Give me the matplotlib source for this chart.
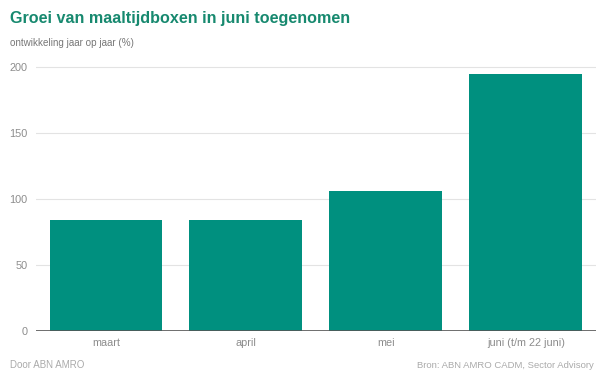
import matplotlib
matplotlib.use('Agg')
import matplotlib.pyplot as plt

plt.rcParams['font.family'] = ['Liberation Sans', 'DejaVu Sans']

maanden = ['maart', 'april', 'mei', 'juni (t/m 22 juni)']
groei = [84.5, 84, 106.5, 195]
yticks = [0, 50, 100, 150, 200]

teal = '#00907f'
grijs = '#8c8c8c'

fig = plt.figure(figsize=(6, 3.78), dpi=100)
ax = fig.add_axes([0.06, 0.1243, 0.933, 0.7011])

x = range(len(maanden))
ax.bar(x, groei, width=0.807, color=teal, zorder=2)

ax.set_xlim(-0.5, 3.5)
ax.set_yticks(yticks)
ax.set_xticks(list(x))
ax.set_xticklabels(maanden)
ax.yaxis.grid(True, color='#e3e3e3', linewidth=0.8, zorder=0)
ax.axhline(0, color='#555555', linewidth=1.2, zorder=3)
for s in ax.spines.values():
    s.set_visible(False)
ax.tick_params(axis='both', length=0, labelsize=7.8, labelcolor=grijs)
ax.tick_params(axis='y', pad=6)
ax.tick_params(axis='x', pad=5)
ax.set_ylim(0, 201)

fig.text(10 / 600, 1 - 18 / 378, 'Groei van maaltijdboxen in juni toegenomen',
         fontsize=11.6, fontweight='bold', color='#17896f', va='center', ha='left')
fig.text(10 / 600, 1 - 43 / 378, 'ontwikkeling jaar op jaar (%)',
         fontsize=7.1, color='#777777', va='center', ha='left')
fig.text(10 / 600, 1 - 365 / 378, 'Door ABN AMRO',
         fontsize=7, color='#aaaaaa', va='center', ha='left')
fig.text(594 / 600, 1 - 365 / 378, 'Bron: ABN AMRO CADM, Sector Advisory',
         fontsize=6.8, color='#aaaaaa', va='center', ha='right')

fig.savefig('out.png', dpi=100)
